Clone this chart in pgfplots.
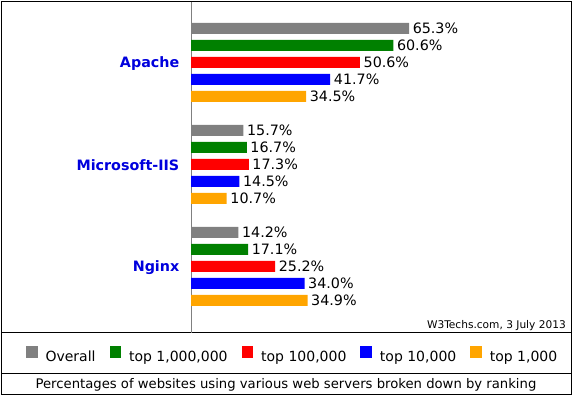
\documentclass[border=0pt]{standalone}
\usepackage{fontspec}
\setmainfont{DejaVu Sans}
\usepackage{pgfplots}
\pgfplotsset{compat=1.18}
\definecolor{cgray}{RGB}{128,128,128}
\definecolor{cgreen}{RGB}{0,128,0}
\definecolor{cred}{RGB}{255,0,0}
\definecolor{cblue}{RGB}{0,0,255}
\definecolor{corange}{RGB}{255,165,0}
\definecolor{labblue}{RGB}{0,0,221}
\begin{document}
\begin{tikzpicture}[x=1pt,y=1pt]
\useasboundingbox (0,0) rectangle (573,398);
\draw[line width=1.2pt] (1.5,3.5) rectangle (571.5,396.5);
\draw[line width=1pt] (1.5,65) -- (571.5,65);
\draw[line width=1pt] (1.5,24.7) -- (571.5,24.7);
\begin{axis}[
  at={(191pt,65pt)}, anchor=south west,
  scale only axis, width=380pt, height=331pt,
  xmin=0, xmax=113.8, ymin=2, ymax=333, y dir=reverse,
  axis x line=none, axis y line*=left,
  axis line style={cgray, line width=1pt},
  ytick={63.5,165.5,267.5},
  yticklabels={Apache,Microsoft-IIS,Nginx},
  major tick length=0pt,
  yticklabel style={font=\fontsize{14.3}{16}\selectfont\bfseries, text=labblue, inner sep=0pt, xshift=-11.5pt},
  clip=false,
  xbar, bar shift=0pt, bar width=11,
  point meta=x,
  /pgf/number format/assume math mode=true,
  nodes near coords={\pgfmathprintnumber[fixed,fixed zerofill,precision=1]{\pgfplotspointmeta}\%},
  nodes near coords style={font=\fontsize{14.3}{16}\selectfont, inner sep=0pt, xshift=3.5pt, anchor=west, text=black},
  legend columns=5,
  legend style={draw=none, fill=none, inner sep=0pt, outer sep=0pt,
    at={(-0.4342,-0.066)}, anchor=west,
    font=\fontsize{14}{16}\selectfont,
    nodes={inner sep=0pt},
    /tikz/every odd column/.append style={column sep=8pt},
    /tikz/every even column/.append style={column sep=14pt}},
  legend image code/.code={\fill[#1] (0pt,-0.2pt) rectangle (11.5pt,11.2pt);},
]
\addplot[draw=none, fill=cgray] coordinates {(65.3,28.5) (15.7,130.5) (14.2,232.5)};
\addlegendentry{Overall}
\addplot[draw=none, fill=cgreen] coordinates {(60.6,45.5) (16.7,147.5) (17.1,249.5)};
\addlegendentry{top 1,000,000}
\addplot[draw=none, fill=cred] coordinates {(50.6,62.5) (17.3,164.5) (25.2,266.5)};
\addlegendentry{top 100,000}
\addplot[draw=none, fill=cblue] coordinates {(41.7,79.5) (14.5,181.5) (34.0,283.5)};
\addlegendentry{top 10,000}
\addplot[draw=none, fill=corange] coordinates {(34.5,96.5) (10.7,198.5) (34.9,300.5)};
\addlegendentry{top 1,000}
\end{axis}
\node[anchor=base east, font=\fontsize{10.6}{12}\selectfont, inner sep=0pt] at (566,69) {W3Techs.com, 3 July 2013};
\node[anchor=base, font=\fontsize{13.2}{15}\selectfont, inner sep=0pt] at (286,9) {Percentages of websites using various web servers broken down by ranking};
\end{tikzpicture}
\end{document}
